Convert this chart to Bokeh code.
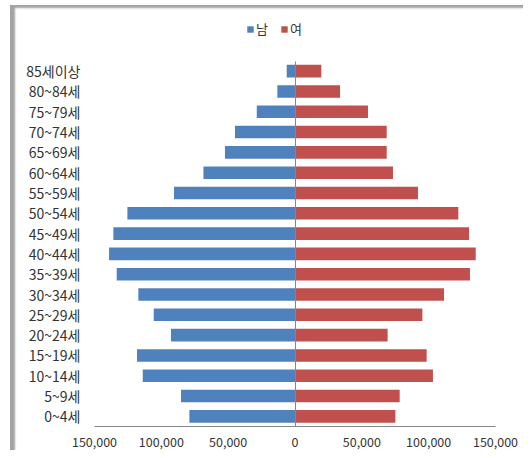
from bokeh.plotting import figure
from bokeh.models import Range1d, Legend, LegendItem, FixedTicker, LinearAxis
from bokeh.embed import file_html
from bokeh.resources import INLINE

categories = ["0~4세", "5~9세", "10~14세", "15~19세", "20~24세", "25~29세", "30~34세",
              "35~39세", "40~44세", "45~49세", "50~54세", "55~59세", "60~64세", "65~69세",
              "70~74세", "75~79세", "80~84세", "85세이상"]
male = [79000, 85300, 113900, 118200, 92800, 105700, 117200, 133400, 139100, 135900,
        125400, 90500, 68500, 52400, 44900, 28600, 13200, 6200]
female = [75100, 78300, 103200, 98500, 69300, 95300, 111500, 130900, 135200, 130200,
          122200, 92000, 73300, 68600, 68600, 54600, 33700, 19700]
series_names = ["남", "여"]
x_ticks = [-150000, -100000, -50000, 0, 50000, 100000, 150000]
x_tick_labels = ["150,000", "100,000", "50,000", "0", "50,000", "100,000", "150,000"]

FONT = "Noto Sans CJK KR"
BLUE = "#4F81BD"
RED = "#C0504D"

pos = list(range(len(categories)))
n = len(categories)
# frame extends upward to host the legend; category bands keep ~20.3px each
y_top = -0.5 + n * (416.0 / 365.5)

p = figure(width=523, height=450, output_backend="svg", toolbar_location=None,
           x_range=Range1d(-150000, 150000), y_range=Range1d(-0.5, y_top),
           min_border_left=94, min_border_right=28, min_border_top=10, min_border_bottom=24)
p.outline_line_color = None
p.border_fill_color = None
p.background_fill_color = None
p.xgrid.grid_line_color = None
p.ygrid.grid_line_color = None
p.styles = {"box-shadow": "inset 10px 5px 0 0 #ffffff, inset 15px 8px 2px 0 #a3a3a3",
            "background-color": "#ffffff"}

neg_male = [-v for v in male]
r_m = p.hbar(y=pos, left=neg_male, right=0, height=0.62, fill_color=BLUE, line_color=None)
r_f = p.hbar(y=pos, left=0, right=female, height=0.62, fill_color=RED, line_color=None)

xa = p.xaxis[0]
xa.ticker = FixedTicker(ticks=x_ticks)
xa.major_label_overrides = {t: l for t, l in zip(x_ticks, x_tick_labels)}
xa.axis_line_color = "#868686"
xa.major_tick_line_color = None
xa.minor_tick_line_color = None
xa.major_tick_out = 0
xa.major_label_standoff = 10
xa.major_label_text_font = FONT
xa.major_label_text_font_size = "12.5px"
xa.major_label_text_color = "#333333"

ya = p.yaxis[0]
ya.ticker = FixedTicker(ticks=pos)
ya.major_label_overrides = {i: c for i, c in zip(pos, categories)}
ya.axis_line_color = None
ya.major_tick_line_color = None
ya.minor_tick_line_color = None
ya.major_tick_out = 0
ya.major_label_standoff = 14
ya.major_label_text_font = FONT
ya.major_label_text_font_size = "14px"
ya.major_label_text_color = "#333333"

# category axis line sitting at x = 0
zero_axis = LinearAxis(fixed_location=0, bounds=(-0.5, n - 0.5), ticker=FixedTicker(ticks=[]),
                       axis_line_color="#868686", major_tick_line_color=None,
                       minor_tick_line_color=None, major_label_text_font_size="0px")
p.add_layout(zero_axis, "left")

legend = Legend(items=[LegendItem(label=series_names[0], renderers=[r_m]),
                       LegendItem(label=series_names[1], renderers=[r_f])],
                orientation="horizontal", location=(152, 388),
                glyph_width=8, glyph_height=8, label_standoff=2, spacing=4,
                padding=0, margin=0, border_line_color=None, background_fill_alpha=0,
                label_text_font=FONT, label_text_font_size="13px", label_text_color="#333333")
p.add_layout(legend, "center")

open("out.html", "w").write(file_html(p, INLINE))
